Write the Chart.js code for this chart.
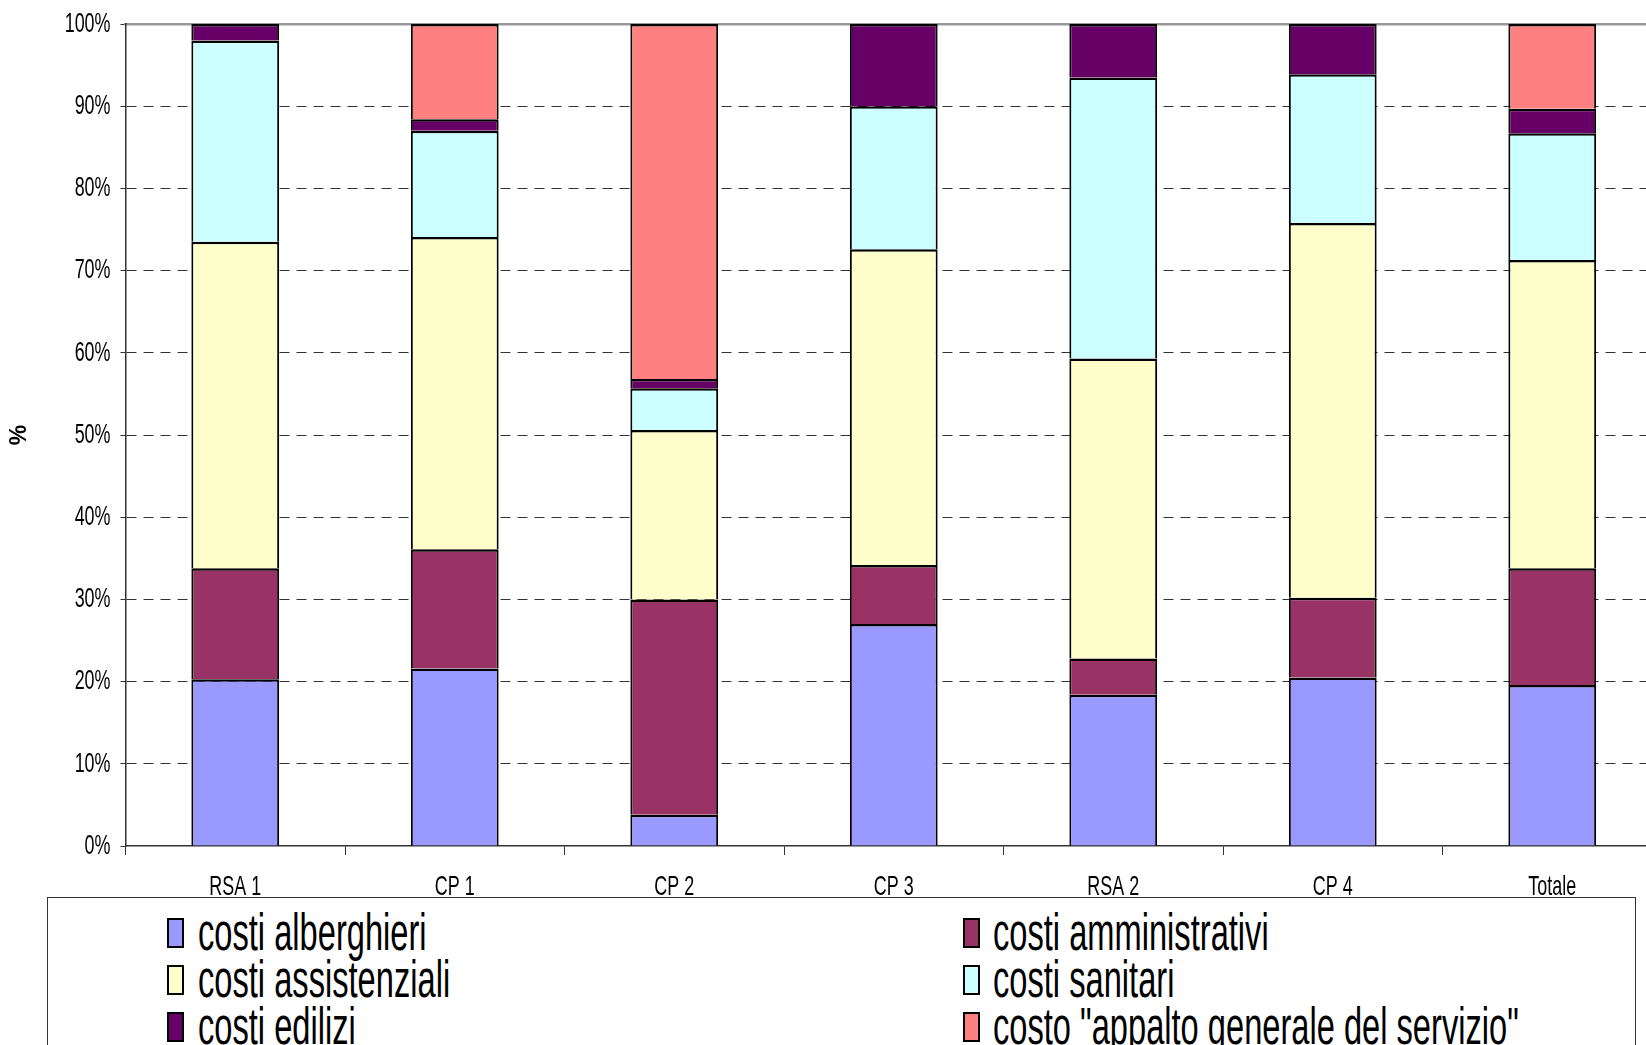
<!DOCTYPE html>
<html>
<head>
<meta charset="utf-8">
<script src="https://cdn.jsdelivr.net/npm/chart.js@4.4.0/dist/chart.umd.min.js"></script>
<style>
    html, body { margin: 0; padding: 0; background: #fff; overflow: hidden; }
    #wrap { position: relative; width: 1662px; height: 1045px; }
    #legend {
        position: absolute; left: 47px; top: 897px;
        width: 1587px; height: 200px;
        border: 1px solid #333; background: #fff;
    }
    .swatch { position: absolute; width: 13px; height: 26px; border: 2.5px solid #000; }
    .label {
        position: absolute; white-space: nowrap; color: #000;
        font-family: 'Liberation Sans', Arial, sans-serif;
        font-size: 51px; line-height: 51px;
        transform: scaleX(0.64); transform-origin: 0 0;
    }
</style>
</head>
<body>
<div id="wrap">
    <canvas id="chart" width="1662" height="1045"></canvas>
    <div id="legend"></div>
</div>
<script>
// ===== DATA =====
const categories = ['RSA 1', 'CP 1', 'CP 2', 'CP 3', 'RSA 2', 'CP 4', 'Totale'];

const alberghieri    = [20.3, 21.6,  3.8, 27.0, 18.4, 20.5, 19.6];
const amministrativi = [13.5, 14.5, 26.2,  7.2,  4.4,  9.7, 14.2];
const assistenziali  = [39.7, 38.0, 20.6, 38.4, 36.5, 45.6, 37.5];
const sanitari       = [24.5, 12.9,  5.1, 17.4, 34.2, 18.1, 15.4];
const edilizi        = [ 2.0,  1.4,  1.1, 10.0,  6.5,  6.1,  3.0];
const appalto        = [ 0,   11.6, 43.2,  0,    0,    0,   10.3];

const seriesNames = [
    'costi alberghieri',
    'costi amministrativi',
    'costi assistenziali',
    'costi sanitari',
    'costi edilizi',
    'costo "appalto generale del servizio"'
];
const seriesColors = ['#9999FF', '#993366', '#FFFFCC', '#CCFFFF', '#660066', '#FF8080'];
const seriesValues = [alberghieri, amministrativi, assistenziali, sanitari, edilizi, appalto];

const yTicks = [0, 10, 20, 30, 40, 50, 60, 70, 80, 90, 100];

// ===== STYLE =====
const sans = "'Liberation Sans', Arial, sans-serif";
const axisColor = '#333';
const squeeze = 0.64;   // the original uses a tall, narrow face

const ctx = document.getElementById('chart').getContext('2d');

// narrow the horizontal text drawn by the chart
const rawFillText = ctx.fillText;
ctx.fillText = function (text, x, y) {
    const t = this.getTransform();
    if (t.b !== 0 || t.c !== 0) return rawFillText.call(this, text, x, y);
    this.save();
    this.translate(x, y);
    this.scale(squeeze, 1);
    rawFillText.call(this, text, 0, 0);
    this.restore();
};

// ===== CHART =====
new Chart(ctx, {
    type: 'bar',
    data: {
        labels: categories,
        datasets: seriesValues.map((vals, i) => ({
            label: seriesNames[i],
            data: vals,
            backgroundColor: seriesColors[i],
            borderColor: '#000',
            borderWidth: { top: 2.5, left: 2, right: 2, bottom: 0 },
            barPercentage: 0.4,
            categoryPercentage: 1
        }))
    },
    options: {
        responsive: false,
        animation: false,
        layout: { padding: { top: 20, left: 0, right: 0, bottom: 139 } },
        plugins: {
            legend: { display: false },
            tooltip: { enabled: false }
        },
        scales: {
            x: {
                stacked: true,
                grid: {
                    drawOnChartArea: false,
                    drawTicks: true,
                    tickLength: 9,
                    tickColor: axisColor,
                    offset: true
                },
                border: { color: axisColor, width: 1.5 },
                ticks: {
                    color: '#000',
                    font: { family: sans, size: 28 },
                    padding: 15,
                    maxRotation: 0,
                    autoSkip: false
                },
                afterFit: s => { s.height = 60; }
            },
            top: {
                type: 'category',
                position: 'top',
                grid: { display: false },
                ticks: { display: false },
                border: { color: '#999', width: 2.5 },
                afterFit: s => { s.height = 0; }
            },
            y: {
                stacked: true,
                min: 0,
                max: 100,
                afterBuildTicks: s => { s.ticks = yTicks.map(v => ({ value: v })); },
                ticks: {
                    callback: v => v + '%',
                    color: '#000',
                    font: { family: sans, size: 28, lineHeight: 1.0 },
                    padding: 10
                },
                grid: {
                    color: c => (c.tick && (c.tick.value === 0 || c.tick.value === 100)) ? 'rgba(0,0,0,0)' : axisColor,
                    tickColor: axisColor,
                    tickLength: 5,
                    lineWidth: 1
                },
                border: { color: axisColor, width: 1.5, dash: [10, 7] },
                title: {
                    display: true,
                    text: '%',
                    color: '#000',
                    font: { family: sans, weight: 'bold', size: 23 },
                    padding: { top: 5.5, bottom: 0 }
                },
                afterFit: s => { s.width = 125.5; }
            }
        }
    }
});

// ===== LEGEND =====
const legend = document.getElementById('legend');
const colSwatchX = [119, 915];
const colTextX = [150, 945];
const rowSwatchY = [20, 67, 114];
const rowTextY = [8.5, 55.5, 102.5];

seriesNames.forEach((name, i) => {
    const col = i % 2;
    const row = Math.floor(i / 2);
    const sw = document.createElement('div');
    sw.className = 'swatch';
    sw.style.left = colSwatchX[col] + 'px';
    sw.style.top = rowSwatchY[row] + 'px';
    sw.style.background = seriesColors[i];
    legend.appendChild(sw);

    const lb = document.createElement('div');
    lb.className = 'label';
    lb.style.left = colTextX[col] + 'px';
    lb.style.top = rowTextY[row] + 'px';
    lb.textContent = name;
    legend.appendChild(lb);
});
</script>
</body>
</html>
